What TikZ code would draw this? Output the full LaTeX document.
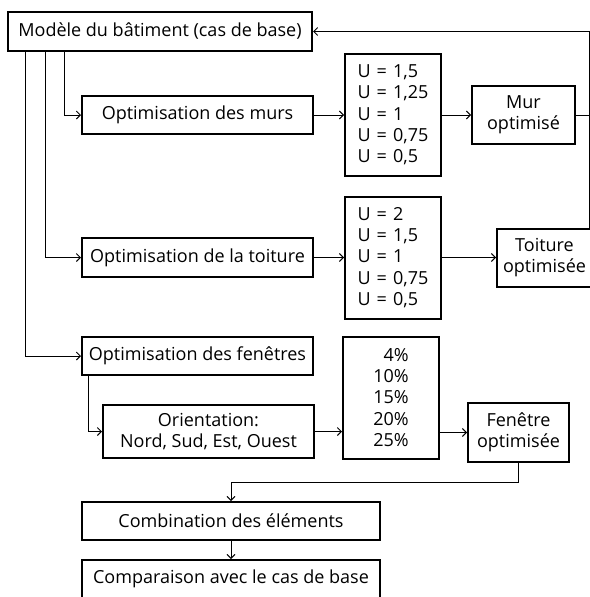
\documentclass[tikz,border=0pt]{standalone}
\usepackage{fontspec}
\setmainfont{Open Sans}
\usetikzlibrary{arrows.meta, positioning}

\newcommand{\egal}{\hspace{0.34em}=\hspace{0.34em}}

\begin{document}
\begin{tikzpicture}[
        x=1pt, y=-1pt,
        every node/.style={font=\fontsize{18}{21.3}\selectfont, inner sep=0pt},
        box/.style={rectangle, draw, line width=2pt, align=center},
        etape/.style={box, minimum width=231pt, minimum height=38pt},
        valeurs/.style={box, minimum width=96pt, minimum height=122pt, align=left},
        resultat/.style={box, minimum width=101pt, minimum height=58pt},
        arrow/.style={-{Straight Barb[length=4pt, width=8pt]}, line width=0.9pt}
    ]
        \useasboundingbox (0,0) rectangle (589,597);

        % Nodes
        \node[box, minimum width=304pt, minimum height=39pt] (modele) at (160,31.5) {Modèle du bâtiment (cas de base)};
        \node[etape] (murs) at (197.5,115) {Optimisation des murs};
        \node[valeurs, right=30pt of murs] (umurs) {U\egal 1,5\\ U\egal 1,25\\ U\egal 1\\ U\egal 0,75\\ U\egal 0,5};
        \node[resultat, minimum width=103pt, right=29pt of umurs] (murop) {Mur\\ optimisé};
        \node[etape, minimum height=39pt] (toiture) at (197.5,257.5) {Optimisation de la toiture};
        \node[valeurs, right=30pt of toiture] (utoit) {U\egal 2\\ U\egal 1,5\\ U\egal 1\\ U\egal 0,75\\ U\egal 0,5};
        \node[resultat, minimum width=95pt, right=54pt of utoit] (toitop) {Toiture\\ optimisée};
        \node[etape] (fenetres) at (197.5,356) {Optimisation des fenêtres};
        \node[box, minimum width=211pt, minimum height=53pt] (orient) at (208.5,431.5) {Orientation:\\ Nord, Sud, Est, Ouest};
        \node[valeurs, align=right] (pct) at (391,397.5) {4\%\\ 10\%\\ 15\%\\ 20\%\\ 25\%};
        \node[resultat, minimum height=59pt] (fenop) at (518.5,432.5) {Fenêtre\\ optimisée};
        \node[etape, minimum width=298pt] (combi) at (231,521) {Combination des éléments};
        \node[etape, minimum width=298pt, below=18pt of combi] (compar) {Comparaison avec le cas de base};
        \coordinate (retour) at ([xshift=-4pt]toitop.north east);

        % Arrows
        \draw[arrow] ([xshift=57pt]modele.south west) |- (murs.west);
        \draw[arrow] ([xshift=38pt]modele.south west) |- (toiture.west);
        \draw[arrow] ([xshift=18pt]modele.south west) |- (fenetres.west);
        \draw[arrow] (murs.east) -- (murs.east -| umurs.west);
        \draw[arrow] (umurs.east |- murop.west) -- (murop.west);
        \draw[arrow] (toiture.east) -- (toiture.east -| utoit.west);
        \draw[arrow] (utoit.east |- toitop.west) -- (toitop.west);
        \draw[arrow] ([xshift=7pt]fenetres.south west) |- (orient.west);
        \draw[arrow] (orient.east) -- (orient.east -| pct.west);
        \draw[arrow] (pct.east |- fenop.west) -- (fenop.west);
        \draw[arrow] (retour) |- (modele.east);
        \draw[line width=0.9pt] (murop.east) -- (murop.east -| retour);
        \draw[arrow] (fenop.south) -- ++(0,19) -| (combi.north);
        \draw[arrow] (combi) -- (compar);
    \end{tikzpicture}
\end{document}
